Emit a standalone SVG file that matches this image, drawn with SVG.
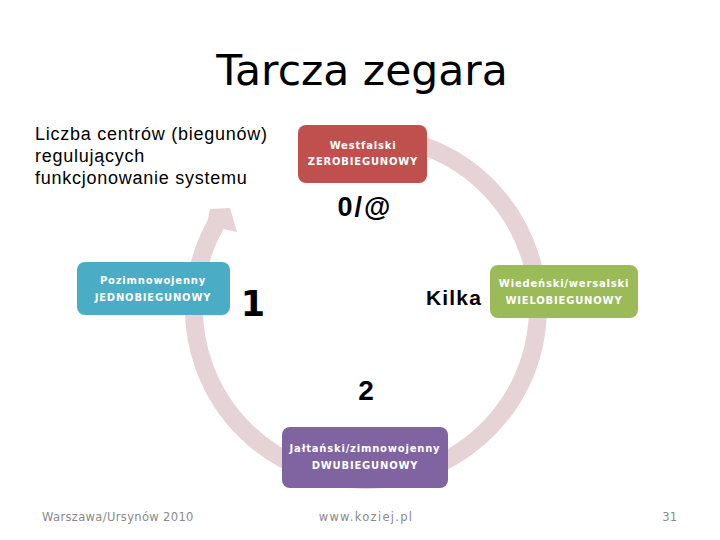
<svg xmlns="http://www.w3.org/2000/svg" width="720" height="540" viewBox="0 0 720 540">
<style>
.node rect{rx:8;ry:8}
.nt{font-family:"DejaVu Sans",Verdana,sans-serif;font-weight:bold;font-size:10px;fill:#fff;text-anchor:middle;letter-spacing:0.8px}
.lbl{font-family:"Liberation Sans",Arial,sans-serif;fill:#000}
.foot{font-family:"DejaVu Sans",sans-serif;font-size:11.5px;fill:#8a8a8a}
.ring{fill:none;stroke:#e6d3d5;stroke-width:18}
</style>
<rect width="720" height="540" fill="#fff"/>
<text x="362" y="85" font-family="DejaVu Sans, sans-serif" font-size="42.5" text-anchor="middle" fill="#000">Tarcza zegara</text>
<g id="connectors">
<path class="ring" d="M366 136 A172 172 0 1 1 217 222"/>
<polygon points="207.7,220.3 210,209 230,208 237,232 223.4,229" fill="#e6d3d5"/>
</g>
<g id="node-top" class="node">
<rect x="298" y="125" width="129" height="58" fill="#c0504d"/>
<text class="nt" x="363" y="149">Westfalski</text>
<text class="nt" x="363" y="165">ZEROBIEGUNOWY</text>
</g>
<g id="node-right" class="node">
<rect x="490" y="265" width="148" height="53" fill="#9bbb59"/>
<text class="nt" x="564" y="287">Wiedeński/wersalski</text>
<text class="nt" x="564" y="304">WIELOBIEGUNOWY</text>
</g>
<g id="node-bottom" class="node">
<rect x="282" y="427" width="166" height="61" fill="#8064a2"/>
<text class="nt" x="365" y="452">Jałtański/zimnowojenny</text>
<text class="nt" x="365" y="469">DWUBIEGUNOWY</text>
</g>
<g id="node-left" class="node">
<rect x="77" y="262" width="153" height="53" fill="#4bacc6"/>
<text class="nt" x="153" y="284">Pozimnowojenny</text>
<text class="nt" x="153" y="301">JEDNOBIEGUNOWY</text>
</g>
<g id="labels">
<text class="lbl" x="35" y="140" font-size="18" letter-spacing="0.75">Liczba centrów (biegunów)</text>
<text class="lbl" x="35" y="162" font-size="18" letter-spacing="0.75">regulujących</text>
<text class="lbl" x="35" y="184" font-size="18" letter-spacing="0.75">funkcjonowanie systemu</text>
<text class="lbl" x="365" y="216" font-size="27" font-weight="bold" text-anchor="middle" letter-spacing="2">0/@</text>
<text x="253" y="316" font-family="DejaVu Sans, sans-serif" font-size="35" font-weight="bold" text-anchor="middle">1</text>
<text class="lbl" x="454" y="305" font-size="21" font-weight="bold" text-anchor="middle" letter-spacing="1.2">Kilka</text>
<text class="lbl" x="366" y="400" font-size="28" font-weight="bold" text-anchor="middle">2</text>
</g>
<text class="foot" x="42" y="521" letter-spacing="0.35">Warszawa/Ursynów 2010</text>
<text class="foot" x="366" y="521" text-anchor="middle" letter-spacing="1.3">www.koziej.pl</text>
<text class="foot" x="677" y="521" text-anchor="end">31</text>
</svg>
